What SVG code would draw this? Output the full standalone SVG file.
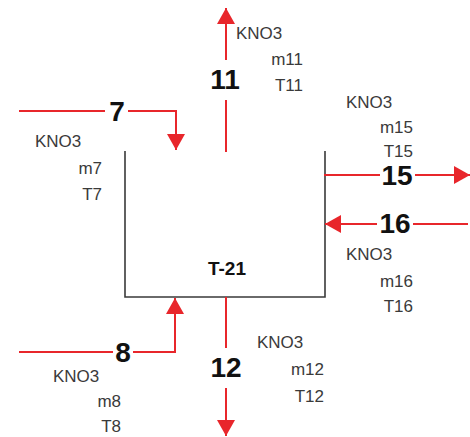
<svg xmlns="http://www.w3.org/2000/svg" width="470" height="437" viewBox="0 0 470 437">
<defs>
<marker id="arr" markerUnits="userSpaceOnUse" markerWidth="17" markerHeight="18" refX="16" refY="9" orient="auto">
<path d="M0,0 L16,9 L0,18 Z" fill="#e8262b"/>
</marker>
<style>
.flow{fill:none;stroke:#e8262b;stroke-width:2;marker-end:url(#arr)}
.num{font-family:"Liberation Sans",Arial,sans-serif;font-weight:bold;font-size:28px;fill:#111;text-anchor:middle}
.gap{fill:#fff}
.d{font-family:"Liberation Sans",Arial,sans-serif;font-size:17px;fill:#3a3a3a}
.e{text-anchor:end}
.tank{fill:none;stroke:#3a3a3a;stroke-width:1.6}
.tl{font-family:"Liberation Sans",Arial,sans-serif;font-weight:bold;font-size:19px;fill:#111;text-anchor:middle}
</style>
</defs>
<rect width="470" height="437" fill="#fff"/>

<g id="T-21">
<path class="tank" d="M125,151 V297 H325 V151"/>
<text class="tl" x="227" y="275">T-21</text>
</g>

<g id="data-11"><text class="d" x="236" y="39">KNO3</text><text class="d e" x="303" y="65">m11</text><text class="d e" x="303" y="91">T11</text></g>
<g id="data-15"><text class="d" x="346" y="108">KNO3</text><text class="d e" x="413" y="133">m15</text><text class="d e" x="413" y="157">T15</text></g>
<g id="data-7"><text class="d" x="35" y="147">KNO3</text><text class="d e" x="102" y="174">m7</text><text class="d e" x="102" y="200">T7</text></g>
<g id="data-16"><text class="d" x="346" y="260">KNO3</text><text class="d e" x="413" y="287">m16</text><text class="d e" x="413" y="312">T16</text></g>
<g id="data-12"><text class="d" x="257" y="348">KNO3</text><text class="d e" x="324" y="375">m12</text><text class="d e" x="324" y="402">T12</text></g>
<g id="data-8"><text class="d" x="53" y="382">KNO3</text><text class="d e" x="121" y="407">m8</text><text class="d e" x="121" y="432">T8</text></g>

<g id="connectors">
<g id="s7"><path class="flow" d="M19,111 H176 V150"/><rect class="gap" x="105" y="100" width="23" height="24"/><text class="num" x="117" y="121">7</text></g>
<g id="s11"><path class="flow" d="M226,152 V8"/><rect class="gap" x="208" y="60" width="36" height="40"/><text class="num" x="225" y="89">11</text></g>
<g id="s15"><path class="flow" d="M324,175 H470"/><rect class="gap" x="380" y="164" width="35" height="24"/><text class="num" x="397" y="185">15</text></g>
<g id="s16"><path class="flow" d="M468,224 H325"/><rect class="gap" x="377" y="210" width="36" height="26"/><text class="num" x="395" y="233">16</text></g>
<g id="s8"><path class="flow" d="M19,352 H175 V298"/><rect class="gap" x="113" y="338" width="20" height="26"/><text class="num" x="123" y="362">8</text></g>
<g id="s12"><path class="flow" d="M226,297 V436"/><rect class="gap" x="208" y="348" width="36" height="40"/><text class="num" x="226" y="377">12</text></g>
</g>
</svg>
